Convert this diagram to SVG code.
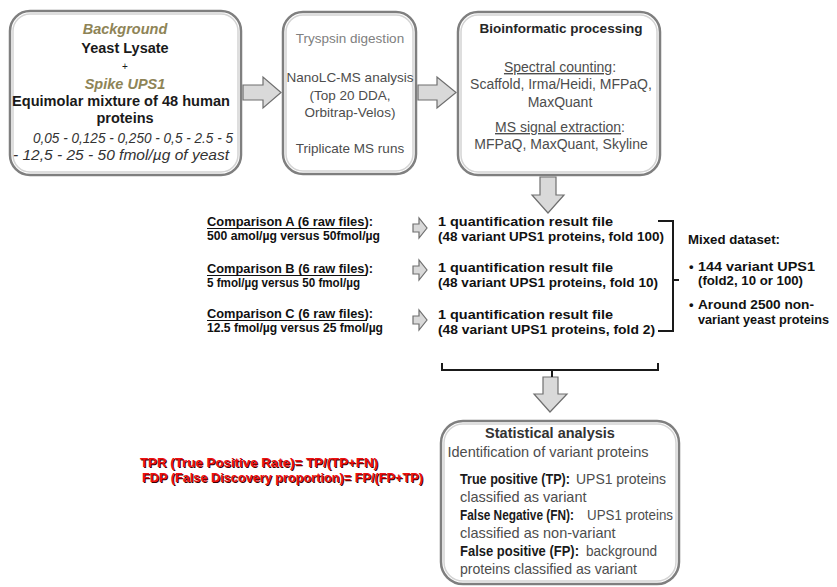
<svg xmlns="http://www.w3.org/2000/svg" width="837" height="587" viewBox="0 0 837 587">
<style>
.box{fill:#ffffff;stroke:#7f7f7f;stroke-width:2.5}
.boxin{fill:none;stroke:#d4d4d4;stroke-width:1.5}
.t{font-family:"Liberation Sans",Arial,sans-serif}
.c{text-anchor:middle}
.b{font-weight:bold}
.i{font-style:italic}
.olive{fill:#8e8456}
.blk{fill:#1a1a1a}
.gry{fill:#4d4d4d}
.lgry{fill:#808080}
.arr{fill:#d9d9d9;stroke:#6f6f6f;stroke-width:1.2;stroke-linejoin:miter}
.br{fill:none;stroke:#1a1a1a;stroke-width:2}
.ul{stroke:#111;stroke-width:1.2}
.cmp{font-family:"Liberation Sans",Arial,sans-serif;font-weight:bold;font-size:13px;fill:#111}
.red{font-family:"Liberation Sans",Arial,sans-serif;font-weight:bold;font-size:13px;fill:#ee1111}
.redsh{font-family:"Liberation Sans",Arial,sans-serif;font-weight:bold;font-size:13px;fill:#3a0000}
.u{text-decoration:underline}
</style>

<g id="sample">
<rect class="box" x="10" y="11" width="231" height="164" rx="20"/>
<rect class="boxin" x="13" y="14" width="225" height="158" rx="17"/>
<text class="t c b i olive" x="125" y="34" font-size="14.5">Background</text>
<text class="t c b blk" x="125" y="53" font-size="14.5">Yeast Lysate</text>
<text class="t c blk" x="125" y="70" font-size="10">+</text>
<text class="t c b i olive" x="125" y="89" font-size="14.5">Spike UPS1</text>
<text class="t c b blk" x="121" y="106" font-size="14.5" textLength="218" lengthAdjust="spacingAndGlyphs">Equimolar mixture of 48 human</text>
<text class="t c b blk" x="125" y="123" font-size="14.5">proteins</text>
<text class="t c i" fill="#333" x="133" y="143" font-size="14" textLength="200" lengthAdjust="spacingAndGlyphs">0,05 - 0,125 - 0,250 - 0,5 - 2.5 - 5</text>
<text class="t c i" fill="#333" x="121" y="160" font-size="14" textLength="216" lengthAdjust="spacingAndGlyphs">- 12,5 - 25 - 50 fmol/µg of yeast</text>
</g>

<g id="ms">
<rect class="box" x="283" y="12" width="133" height="162" rx="20"/>
<rect class="boxin" x="286" y="15" width="127" height="156" rx="17"/>
<text class="t c lgry" x="350" y="43" font-size="13.5">Tryspsin digestion</text>
<text class="t c gry" x="350" y="82" font-size="13.5">NanoLC-MS analysis</text>
<text class="t c gry" x="350" y="100" font-size="13.5">(Top 20 DDA,</text>
<text class="t c gry" x="350" y="117" font-size="13.5">Orbitrap-Velos)</text>
<text class="t c gry" x="350" y="153" font-size="13.5">Triplicate MS runs</text>
</g>

<g id="bioinfo">
<rect class="box" x="458" y="12" width="202" height="163" rx="20"/>
<rect class="boxin" x="461" y="15" width="196" height="157" rx="17"/>
<text class="t c b" fill="#262626" x="561" y="33" font-size="13.5">Bioinformatic processing</text>
<text class="t c gry" x="560" y="72" font-size="14"><tspan class="u">Spectral counting</tspan>:</text>
<text class="t c gry" x="561" y="89" font-size="14">Scaffold, Irma/Heidi, MFPaQ,</text>
<text class="t c gry" x="560" y="107" font-size="14">MaxQuant</text>
<text class="t c gry" x="560" y="132" font-size="14"><tspan class="u">MS signal extraction</tspan>:</text>
<text class="t c gry" x="561" y="149" font-size="14">MFPaQ, MaxQuant, Skyline</text>
</g>

<g id="comparisons">
<text class="cmp" x="207" y="226" textLength="166" lengthAdjust="spacingAndGlyphs">Comparison A (6 raw files):</text>
<line class="ul" x1="207" y1="228.5" x2="367" y2="228.5"/>
<text class="cmp" x="207" y="240" textLength="173" lengthAdjust="spacingAndGlyphs">500 amol/µg versus 50fmol/µg</text>
<text class="cmp" x="207" y="273" textLength="166" lengthAdjust="spacingAndGlyphs">Comparison B (6 raw files):</text>
<line class="ul" x1="207" y1="275.5" x2="367" y2="275.5"/>
<text class="cmp" x="207" y="287" textLength="153" lengthAdjust="spacingAndGlyphs">5 fmol/µg versus 50 fmol/µg</text>
<text class="cmp" x="207" y="318" textLength="166" lengthAdjust="spacingAndGlyphs">Comparison C (6 raw files):</text>
<line class="ul" x1="207" y1="320.5" x2="367" y2="320.5"/>
<text class="cmp" x="207" y="332" textLength="176" lengthAdjust="spacingAndGlyphs">12.5 fmol/µg versus 25 fmol/µg</text>
</g>

<g id="results">
<text class="cmp" x="438" y="226" textLength="175" lengthAdjust="spacingAndGlyphs">1 quantification result file</text>
<text class="cmp" x="438" y="241" textLength="226" lengthAdjust="spacingAndGlyphs">(48 variant UPS1 proteins, fold 100)</text>
<text class="cmp" x="438" y="272" textLength="175" lengthAdjust="spacingAndGlyphs">1 quantification result file</text>
<text class="cmp" x="438" y="287" textLength="220" lengthAdjust="spacingAndGlyphs">(48 variant UPS1 proteins, fold 10)</text>
<text class="cmp" x="438" y="319" textLength="175" lengthAdjust="spacingAndGlyphs">1 quantification result file</text>
<text class="cmp" x="438" y="334" textLength="217" lengthAdjust="spacingAndGlyphs">(48 variant UPS1 proteins, fold 2)</text>
</g>

<g id="mixed">
<text class="cmp" x="688" y="244" textLength="92" lengthAdjust="spacingAndGlyphs">Mixed dataset:</text>
<text class="cmp" x="689" y="271">•</text>
<text class="cmp" x="698" y="271" textLength="117" lengthAdjust="spacingAndGlyphs">144 variant UPS1</text>
<text class="cmp" x="698" y="285" textLength="105" lengthAdjust="spacingAndGlyphs">(fold2, 10 or 100)</text>
<text class="cmp" x="689" y="309">•</text>
<text class="cmp" x="698" y="309" textLength="116" lengthAdjust="spacingAndGlyphs">Around 2500 non-</text>
<text class="cmp" x="698" y="324" textLength="131" lengthAdjust="spacingAndGlyphs">variant yeast proteins</text>
</g>

<g id="rates">
<text class="redsh" x="141" y="468" textLength="238" lengthAdjust="spacingAndGlyphs">TPR (True Positive Rate)= TP/(TP+FN)</text>
<text class="red" x="140" y="467" textLength="238" lengthAdjust="spacingAndGlyphs">TPR (True Positive Rate)= TP/(TP+FN)</text>
<text class="redsh" x="143" y="483" textLength="281" lengthAdjust="spacingAndGlyphs">FDP (False Discovery proportion)= FP/(FP+TP)</text>
<text class="red" x="142" y="482" textLength="281" lengthAdjust="spacingAndGlyphs">FDP (False Discovery proportion)= FP/(FP+TP)</text>
</g>

<g id="stats">
<rect class="box" x="441" y="421" width="238" height="163" rx="22"/>
<rect class="boxin" x="444" y="424" width="232" height="157" rx="19"/>
<text class="t c b" fill="#333" x="550" y="438" font-size="14.5">Statistical analysis</text>
<text class="t c gry" x="548" y="457" font-size="14.5" textLength="201" lengthAdjust="spacingAndGlyphs">Identification of variant proteins</text>
<text class="t b blk" x="460" y="484" font-size="14" textLength="110" lengthAdjust="spacingAndGlyphs">True positive (TP):</text>
<text class="t gry" x="576" y="484" font-size="14" textLength="90" lengthAdjust="spacingAndGlyphs">UPS1 proteins</text>
<text class="t gry" x="460" y="502" font-size="14.5">classified as variant</text>
<text class="t b blk" x="460" y="520" font-size="14" textLength="114" lengthAdjust="spacingAndGlyphs">False Negative (FN):</text>
<text class="t gry" x="587" y="520" font-size="14" textLength="86" lengthAdjust="spacingAndGlyphs">UPS1 proteins</text>
<text class="t gry" x="460" y="538" font-size="14.5">classified as non-variant</text>
<text class="t b blk" x="460" y="556" font-size="14" textLength="119" lengthAdjust="spacingAndGlyphs">False positive (FP):</text>
<text class="t gry" x="586" y="556" font-size="14" textLength="71" lengthAdjust="spacingAndGlyphs">background</text>
<text class="t gry" x="460" y="574" font-size="14.5" textLength="177" lengthAdjust="spacingAndGlyphs">proteins classified as variant</text>
</g>

<g id="connectors">
<polygon class="arr" points="243,85 263,85 263,77 281,92.5 263,108 263,100 243,100"/>
<polygon class="arr" points="418,85 437,85 437,77 456,92.5 437,108 437,100 418,100"/>
<polygon class="arr" points="540,177 556,177 556,195 564,195 548,213 532,195 540,195"/>
<polygon class="arr" points="543,377 558,377 558,394 567,394 550,412 534,394 543,394"/>
<polygon class="arr" points="413,224 419,224 419,218 427,228 419,238 419,232 413,232"/>
<polygon class="arr" points="413,266 419,266 419,260 427,270 419,280 419,274 413,274"/>
<polygon class="arr" points="413,316 419,316 419,310 427,320 419,330 419,324 413,324"/>
<path class="br" d="M658,221 H673 V331 H658 M673,280 H679"/>
<path class="br" d="M442,363 V370 H658 V363 M552,370 V377"/>
</g>
</svg>
